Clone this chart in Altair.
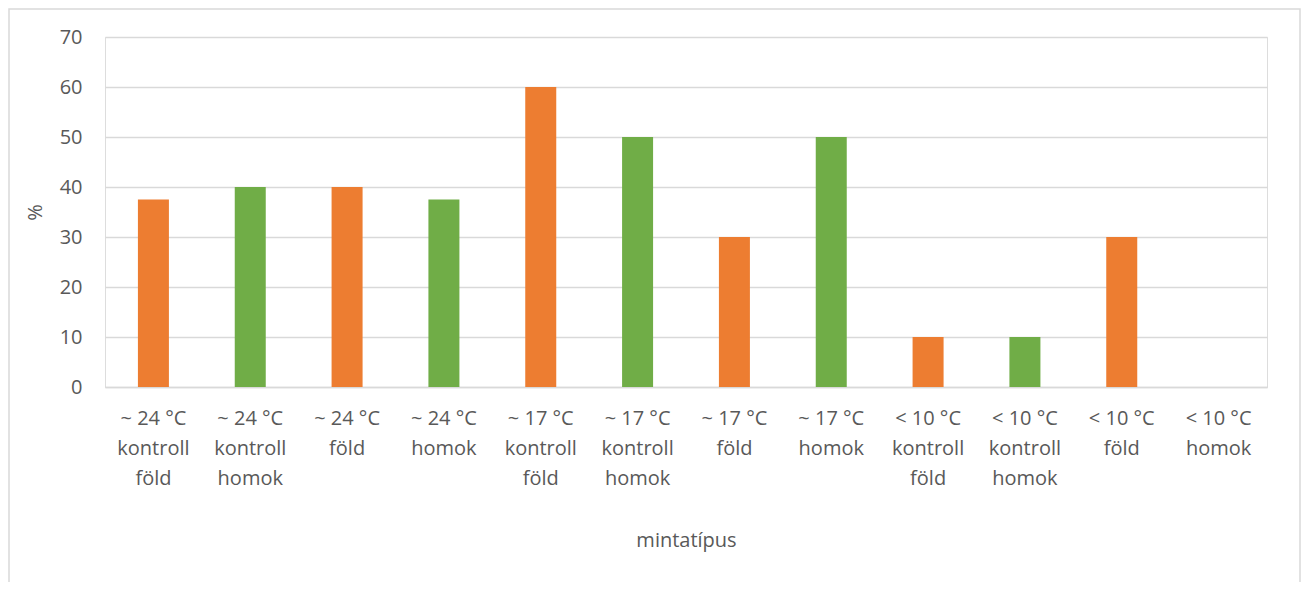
import altair as alt
import pandas as pd

categories = [
    "~ 24 °C|kontroll|föld", "~ 24 °C|kontroll|homok", "~ 24 °C|föld", "~ 24 °C|homok",
    "~ 17 °C|kontroll|föld", "~ 17 °C|kontroll|homok", "~ 17 °C|föld", "~ 17 °C|homok",
    "< 10 °C|kontroll|föld", "< 10 °C|kontroll|homok", "< 10 °C|föld", "< 10 °C|homok",
]
values = [37.5, 40, 40, 37.5, 60, 50, 30, 50, 10, 10, 30, 0]
soil = ["föld", "homok"] * 6
soil_colors = ["#ED7D31", "#70AD47"]

df = pd.DataFrame({"minta": categories, "pct": values, "talaj": soil})

FONT = "Open Sans"
TXT = "#595959"
W, H = 1162, 350

bars = alt.Chart(df).mark_bar(size=31).encode(
    x=alt.X("minta:N", sort=categories, scale=alt.Scale(paddingInner=0, paddingOuter=0),
            axis=alt.Axis(title="mintatípus", labelAngle=0, labelExpr="split(datum.label, '|')",
                          labelLineHeight=30, labelPadding=21, labelBaseline="top",
                          labelFontSize=20, labelColor=TXT, labelFont=FONT,
                          ticks=False, domainColor="#d9d9d9", domainWidth=1.5,
                          titleFontSize=20, titleFont=FONT, titleColor=TXT, titleFontWeight="normal",
                          titleY=153, titleBaseline="middle")),
    y=alt.Y("pct:Q", scale=alt.Scale(domain=[0, 70]),
            axis=alt.Axis(title="%", values=list(range(0, 80, 10)), domain=False, ticks=False,
                          gridColor="#d9d9d9", gridWidth=1.5, labelPadding=23,
                          labelFontSize=20, labelColor=TXT, labelFont=FONT,
                          titleFontSize=20, titleFont=FONT, titleColor=TXT, titleFontWeight="normal",
                          titleX=-70, titleY=175, titleAlign="center", titleBaseline="middle")),
    color=alt.Color("talaj:N", scale=alt.Scale(domain=["föld", "homok"], range=soil_colors), legend=None),
)

frame = alt.Chart(pd.DataFrame({"a": [0]})).mark_rect(fill="white", fillOpacity=0, stroke="#d9d9d9", strokeWidth=1.5).encode(
    x=alt.value(-96), x2=alt.value(1195), y=alt.value(-28), y2=alt.value(580)
)

chart = alt.layer(frame, bars).properties(
    width=W, height=H,
    autosize=alt.AutoSizeParams(type="none"),
    padding={"left": 97, "top": 29, "right": 34, "bottom": 195},
).configure_view(stroke=None).configure(background="white")

chart.save("out.html", embed_options={"renderer": "svg", "actions": False})
